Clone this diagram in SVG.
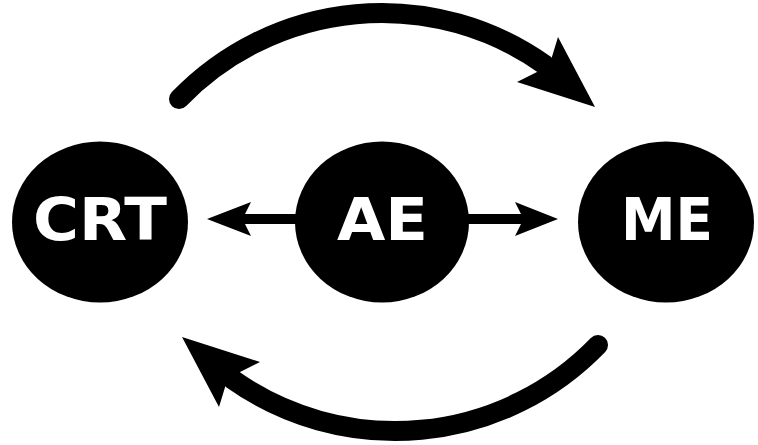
<svg xmlns="http://www.w3.org/2000/svg" width="758" height="445" viewBox="0 0 758 445">
<style>
.node{fill:#000}
.lbl{fill:#fff;font-family:"DejaVu Sans","Liberation Sans",sans-serif;font-weight:bold;font-size:58px;text-anchor:middle}
.arc{fill:none;stroke:#000;stroke-width:20;stroke-linecap:round}
.head{fill:#000}
</style>
<rect width="758" height="445" fill="#fff"/>
<g id="connectors">
<path class="arc" d="M179,99 A282,282 0 0 1 545,65"/>
<polygon class="head" points="595,107 558,37 551,60 537,72 517,82"/>
<path class="arc" d="M598,345 A282,282 0 0 1 232,379"/>
<polygon class="head" points="182,337 219,407 226,384 240,372 260,362"/>
<rect x="244" y="214" width="54" height="10" fill="#000"/>
<polygon class="head" points="207,219 251,202 245,214 245,224 251,236"/>
<rect x="466" y="214" width="56" height="10" fill="#000"/>
<polygon class="head" points="558,219 515,202 521,214 521,224 515,236"/>
</g>
<g id="CRT">
<ellipse class="node" cx="100" cy="222" rx="88" ry="80.5"/>
<text class="lbl" x="100" y="240" textLength="134" lengthAdjust="spacingAndGlyphs">CRT</text>
</g>
<g id="AE">
<ellipse class="node" cx="382" cy="222" rx="87" ry="80.5"/>
<text class="lbl" x="382.5" y="240" textLength="91" lengthAdjust="spacingAndGlyphs">AE</text>
</g>
<g id="ME">
<ellipse class="node" cx="666" cy="222" rx="88" ry="80.5"/>
<text class="lbl" x="667" y="240" textLength="92" lengthAdjust="spacingAndGlyphs">ME</text>
</g>
</svg>
